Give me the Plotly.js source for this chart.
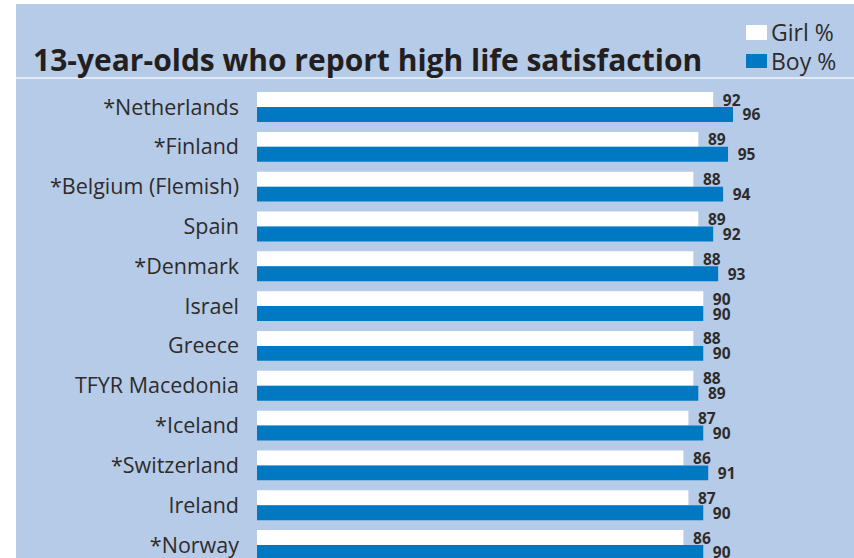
<!DOCTYPE html>
<html>
<head>
<meta charset="utf-8">
<script src="https://cdn.plot.ly/plotly-3.0.1.min.js"></script>
<style>
  html, body { margin: 0; padding: 0; background: #ffffff; width: 854px; height: 558px; overflow: hidden; }
  #chart { position: absolute; left: 16px; top: 4px; width: 838px; height: 554px; }
</style>
</head>
<body>
<div id="chart"></div>
<script>
const countries = ["*Netherlands", "*Finland", "*Belgium (Flemish)", "Spain", "*Denmark", "Israel", "Greece", "TFYR Macedonia", "*Iceland", "*Switzerland", "Ireland", "*Norway"];
const girlPct = [92, 89, 88, 89, 88, 90, 88, 88, 87, 86, 87, 86];
const boyPct  = [96, 95, 94, 92, 93, 90, 90, 89, 90, 91, 90, 90];
const seriesNames = ["Girl %", "Boy %"];
const titleText = "13-year-olds who report high life satisfaction";

const BG = "#b6cbe7";
const BLUE = "#0079c2";
const TXT = "#2e2b2b";

const W = 838, H = 554, ML = 241, MT = 76;
const PW = W - ML, PH = H - MT;
const px = x => (x - ML) / PW;          // div x -> paper x
const py = y => 1 - (y - MT) / PH;      // div y -> paper y

const lbl = v => "\u00a0\u2009" + v;

const valueFont = {family: "Open Sans", size: 15.5, color: TXT, weight: "bold"};

const traces = [
  {
    type: "bar", orientation: "h", name: seriesNames[0],
    y: countries, x: girlPct,
    text: girlPct.map(lbl), textposition: "outside", cliponaxis: false,
    constraintext: "none",
    textfont: valueFont, outsidetextfont: valueFont,
    marker: {color: "#ffffff", line: {width: 0}},
    hoverinfo: "x+y"
  },
  {
    type: "bar", orientation: "h", name: seriesNames[1],
    y: countries, x: boyPct,
    text: boyPct.map(lbl), textposition: "outside", cliponaxis: false,
    constraintext: "none",
    textfont: valueFont, outsidetextfont: valueFont,
    marker: {color: BLUE, line: {width: 0}},
    hoverinfo: "x+y"
  }
];

const layout = {
  width: W, height: H,
  paper_bgcolor: BG, plot_bgcolor: BG,
  margin: {l: ML, r: 0, t: MT, b: 0, pad: 0},
  barmode: "group", bargap: 0.25, bargroupgap: 0,
  showlegend: false,
  title: {
    text: titleText,
    x: 17 / W, xanchor: "left", xref: "container",
    y: 1 - 56 / H, yanchor: "middle", yref: "container",
    font: {family: "Open Sans", size: 30, color: "#231f20", weight: "bold"}
  },
  xaxis: {
    range: [0, 120.4], showgrid: false, zeroline: false, showline: false,
    showticklabels: false, ticks: "", fixedrange: true
  },
  yaxis: {
    type: "category", range: [11.326, -0.678],
    showgrid: false, zeroline: false, showline: false, ticks: "",
    ticklabelstandoff: 17,
    tickfont: {family: "Open Sans", size: 21.5, color: TXT}, fixedrange: true
  },
  shapes: [
    {type: "line", xref: "paper", yref: "paper", x0: px(0), x1: 1, y0: py(74), y1: py(74),
     line: {color: "#e2eaf5", width: 2}},
    {type: "rect", xref: "paper", yref: "paper", x0: px(730), x1: px(751), y0: py(21), y1: py(36),
     fillcolor: "#ffffff", line: {width: 0}},
    {type: "rect", xref: "paper", yref: "paper", x0: px(730), x1: px(751), y0: py(50), y1: py(64),
     fillcolor: BLUE, line: {width: 0}}
  ],
  annotations: [
    {xref: "paper", yref: "paper", x: px(753), y: py(28), xanchor: "left", yanchor: "middle",
     text: seriesNames[0], showarrow: false, font: {family: "Open Sans", size: 23, color: TXT}},
    {xref: "paper", yref: "paper", x: px(753), y: py(57), xanchor: "left", yanchor: "middle",
     text: seriesNames[1], showarrow: false, font: {family: "Open Sans", size: 23, color: TXT}}
  ]
};

Plotly.newPlot("chart", traces, layout, {displayModeBar: false, staticPlot: true});
</script>
</body>
</html>
